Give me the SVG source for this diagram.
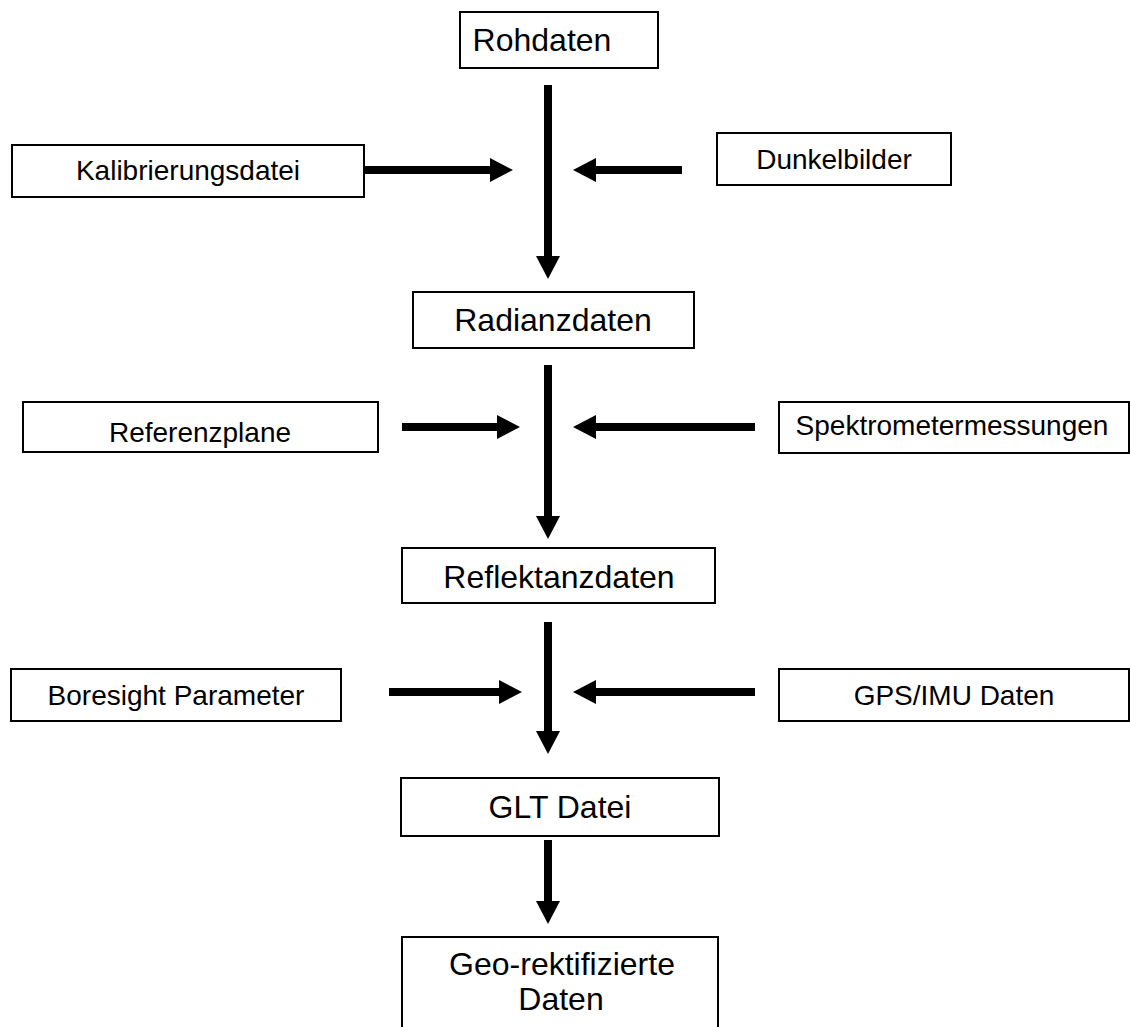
<svg xmlns="http://www.w3.org/2000/svg" width="1130" height="1027" viewBox="0 0 1130 1027">
<style>
.box{fill:#fff;stroke:#000;stroke-width:2}
.big{font-family:"Liberation Sans",Arial,sans-serif;font-size:32px;fill:#000;text-anchor:middle}
.small{font-family:"Liberation Sans",Arial,sans-serif;font-size:28px;fill:#000;text-anchor:middle}
.conn{stroke:#000;stroke-width:8;fill:none}
</style>
<defs>
<marker id="ah" markerUnits="userSpaceOnUse" markerWidth="24" markerHeight="24" refX="0" refY="12" orient="auto" viewBox="0 0 24 24">
<path d="M0,0 L23,12 L0,24 Z" fill="#000"/>
</marker>
</defs>
<rect width="1130" height="1027" fill="#fff"/>
<g id="connectors">
<line class="conn" x1="548" y1="85" x2="548" y2="256" marker-end="url(#ah)"/>
<line class="conn" x1="362" y1="170" x2="490" y2="170" marker-end="url(#ah)"/>
<line class="conn" x1="682" y1="170" x2="596" y2="170" marker-end="url(#ah)"/>
<line class="conn" x1="548" y1="365" x2="548" y2="516" marker-end="url(#ah)"/>
<line class="conn" x1="402" y1="427" x2="497" y2="427" marker-end="url(#ah)"/>
<line class="conn" x1="755" y1="427" x2="596" y2="427" marker-end="url(#ah)"/>
<line class="conn" x1="548" y1="622" x2="548" y2="731" marker-end="url(#ah)"/>
<line class="conn" x1="389" y1="692" x2="499" y2="692" marker-end="url(#ah)"/>
<line class="conn" x1="755" y1="692" x2="596" y2="692" marker-end="url(#ah)"/>
<line class="conn" x1="548" y1="840" x2="548" y2="901" marker-end="url(#ah)"/>
</g>
<g id="rohdaten"><rect class="box" x="460" y="12" width="198" height="56"/><text class="big" x="542" y="51">Rohdaten</text></g>
<g id="kalibrierungsdatei"><rect class="box" x="12" y="145" width="352" height="52"/><text class="small" x="188" y="180">Kalibrierungsdatei</text></g>
<g id="dunkelbilder"><rect class="box" x="717" y="133" width="234" height="52"/><text class="small" x="834" y="169">Dunkelbilder</text></g>
<g id="radianzdaten"><rect class="box" x="413" y="292" width="281" height="56"/><text class="big" x="553" y="331">Radianzdaten</text></g>
<g id="referenzplane"><rect class="box" x="23" y="402" width="355" height="50"/><text class="small" x="200" y="442">Referenzplane</text></g>
<g id="spektrometermessungen"><rect class="box" x="779" y="402" width="350" height="51"/><text class="small" x="952" y="435">Spektrometermessungen</text></g>
<g id="reflektanzdaten"><rect class="box" x="402" y="548" width="313" height="55"/><text class="big" x="559" y="588">Reflektanzdaten</text></g>
<g id="boresight"><rect class="box" x="11" y="669" width="330" height="52"/><text class="small" x="176" y="705">Boresight Parameter</text></g>
<g id="gpsimu"><rect class="box" x="779" y="669" width="350" height="52"/><text class="small" x="954" y="705">GPS/IMU Daten</text></g>
<g id="glt"><rect class="box" x="401" y="778" width="318" height="58"/><text class="big" x="560" y="818">GLT Datei</text></g>
<g id="georekt"><rect class="box" x="402" y="937" width="316" height="100"/><text class="big" x="562" y="975">Geo-rektifizierte</text><text class="big" x="561" y="1010">Daten</text></g>
</svg>
